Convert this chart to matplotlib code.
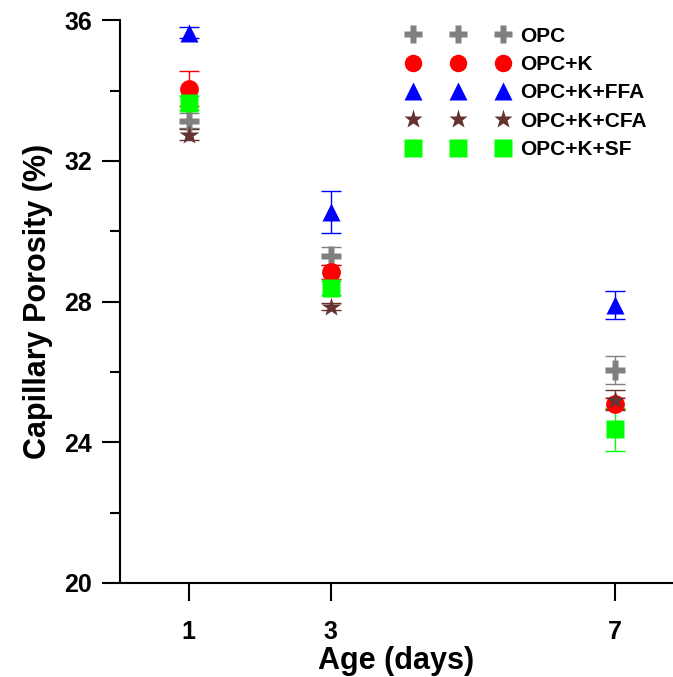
import numpy as np
import matplotlib
matplotlib.use('Agg')
import matplotlib.pyplot as plt
from matplotlib.ticker import MultipleLocator
from matplotlib.lines import Line2D

plt.rcParams['font.family'] = ['Liberation Sans', 'DejaVu Sans']
plt.rcParams['font.weight'] = 'bold'

# age in days
age = [1, 3, 7]

# capillary porosity (%) and error for each mix
opc = [33.15, 29.30, 26.05]
opc_err = [0.20, 0.25, 0.40]
opc_k = [34.05, 28.85, 25.10]
opc_k_err = [0.50, 0.20, 0.15]
opc_k_ffa = [35.65, 30.55, 27.90]
opc_k_ffa_err = [0.15, 0.60, 0.40]
opc_k_cfa = [32.75, 27.85, 25.20]
opc_k_cfa_err = [0.15, 0.10, 0.28]
opc_k_sf = [33.65, 28.40, 24.37]
opc_k_sf_err = [0.20, 0.20, 0.61]

labels = ['OPC', 'OPC+K', 'OPC+K+FFA', 'OPC+K+CFA', 'OPC+K+SF']
series = [opc, opc_k, opc_k_ffa, opc_k_cfa, opc_k_sf]
errors = [opc_err, opc_k_err, opc_k_ffa_err, opc_k_cfa_err, opc_k_sf_err]
markers = ['P', 'o', '^', '*', 's']
colors = ['#808080', '#ff0000', '#0000ff', '#663333', '#00ff00']
msizes = [14, 13.5, 13.5, 15, 13.5]

fig = plt.figure(figsize=(6.73, 6.77), dpi=100)
ax = fig.add_axes([0.178, 0.139, 0.822, 0.831])

handles = []
for y, e, m, c, ms, lab in zip(series, errors, markers, colors, msizes, labels):
    ax.errorbar(age, y, yerr=e, fmt=m, color=c, ms=ms, mec='none',
                ecolor=c, elinewidth=1, capsize=7, capthick=1)
    handles.append(Line2D([], [], ls='none', marker=m, color=c, ms=ms * 0.93,
                          mec='none', label=lab))

ax.set_xlim(0.028, 7.82)
ax.set_ylim(20, 36)
ax.set_xticks(age)
ax.yaxis.set_major_locator(MultipleLocator(4))
ax.yaxis.set_minor_locator(MultipleLocator(2))

for s in ['top', 'right']:
    ax.spines[s].set_visible(False)
for s in ['left', 'bottom']:
    ax.spines[s].set_linewidth(1.5)

ax.tick_params(axis='both', which='major', direction='out', length=13, width=1.5,
               labelsize=18, pad=7)
ax.tick_params(axis='x', which='major', pad=14)
ax.tick_params(axis='y', which='minor', direction='out', length=7, width=1.5)

ax.set_xlabel('Age (days)', fontsize=22, fontweight='bold', labelpad=1)
ax.set_ylabel('Capillary Porosity (%)', fontsize=22, fontweight='bold', labelpad=8)

ax.legend(handles=handles, loc='upper left', bbox_to_anchor=(0.592, 0.973),
          bbox_transform=fig.transFigure, frameon=False, numpoints=3,
          handlelength=4.9, handletextpad=0.55, labelspacing=0.45,
          borderaxespad=0, prop={'size': 15, 'weight': 'bold'})

fig.savefig('out.png', dpi=100)
